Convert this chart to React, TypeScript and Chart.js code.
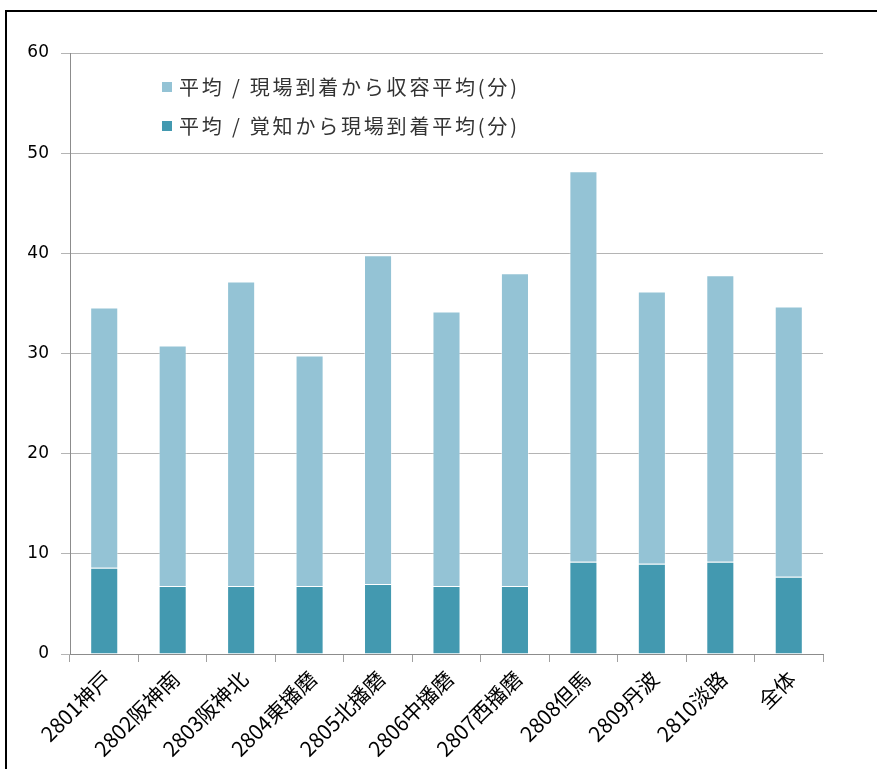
import React, { useEffect, useRef } from "react";
import { Chart, registerables } from "chart.js";

Chart.register(...registerables);

const categories = [
  "2801神戸", "2802阪神南", "2803阪神北", "2804東播磨", "2805北播磨",
  "2806中播磨", "2807西播磨", "2808但馬", "2809丹波", "2810淡路", "全体",
];
const awarenessToArrival = [8.6, 6.8, 6.8, 6.8, 7.0, 6.8, 6.8, 9.2, 9.0, 9.2, 7.7];
const arrivalToAdmission = [26.0, 24.0, 30.4, 23.0, 32.8, 27.4, 31.2, 39.0, 27.2, 28.6, 27.0];
const seriesLabels = ["平均 / 覚知から現場到着平均(分)", "平均 / 現場到着から収容平均(分)"];
const seriesColors = ["#4399B0", "#94C3D5"];
const yTicks = [0, 10, 20, 30, 40, 50, 60];

const legendPlugin = {
  id: "insideLegend",
  afterDraw(chart: any) {
    const ctx = chart.ctx;
    const ds = chart.data.datasets;
    const order = [1, 0];
    ctx.save();
    ctx.font = '20px "Noto Sans CJK JP"';
    (ctx as any).letterSpacing = "2.8px";
    ctx.textBaseline = "middle";
    order.forEach((idx, i) => {
      const y = 75 + i * 39;
      ctx.fillStyle = ds[idx].backgroundColor;
      ctx.fillRect(155, y - 5, 10, 10);
      ctx.fillStyle = "#333333";
      ctx.fillText(ds[idx].label, 172, y);
    });
    ctx.restore();
  },
};

export default function App() {
  const ref = useRef<HTMLCanvasElement>(null);
  useEffect(() => {
    const chart = new Chart(ref.current!, {
      type: "bar",
      data: {
        labels: categories,
        datasets: [
          {
            label: seriesLabels[0],
            data: awarenessToArrival,
            backgroundColor: seriesColors[0],
            borderColor: "rgba(255,255,255,0.35)",
            borderWidth: 1,
            barPercentage: 0.41,
            categoryPercentage: 1,
          },
          {
            label: seriesLabels[1],
            data: arrivalToAdmission,
            backgroundColor: seriesColors[1],
            borderColor: "rgba(255,255,255,0.45)",
            borderWidth: 1,
            barPercentage: 0.41,
            categoryPercentage: 1,
          },
        ],
      },
      options: {
        responsive: false,
        animation: false,
        layout: { padding: { top: 41, right: 54, left: 0, bottom: 0 } },
        plugins: { legend: { display: false }, tooltip: { enabled: false } },
        scales: {
          x: {
            stacked: true,
            grid: {
              offset: true,
              drawOnChartArea: false,
              tickLength: 8,
              color: "#A0A0A0",
            },
            border: { color: "#8C8C8C", width: 1 },
            ticks: {
              minRotation: 45,
              maxRotation: 45,
              color: "#000000",
              font: { family: '"Noto Sans CJK JP"', size: 21 },
              padding: 4,
              labelOffset: 3,
            },
            afterFit(scale: any) {
              scale.height = 115;
            },
          },
          y: {
            stacked: true,
            min: 0,
            max: 60,
            afterBuildTicks(scale: any) {
              scale.ticks = yTicks.map((v) => ({ value: v }));
            },
            grid: { color: "#B4B4B4", tickLength: 9 },
            border: { color: "#8C8C8C", width: 1 },
            ticks: {
              color: "#000000",
              font: { family: '"DejaVu Sans"', size: 17 },
              padding: 12,
            },
            afterFit(scale: any) {
              scale.width = 63;
            },
          },
        },
      },
      plugins: [legendPlugin],
    });
    return () => chart.destroy();
  }, []);
  return (
    <div
      style={{
        position: "absolute",
        left: 5,
        top: 10,
        width: 880,
        height: 770,
        border: "2px solid #000",
        background: "#fff",
        boxSizing: "border-box",
      }}
    >
      <canvas ref={ref} width={870} height={757} style={{ display: "block" }} />
    </div>
  );
}
